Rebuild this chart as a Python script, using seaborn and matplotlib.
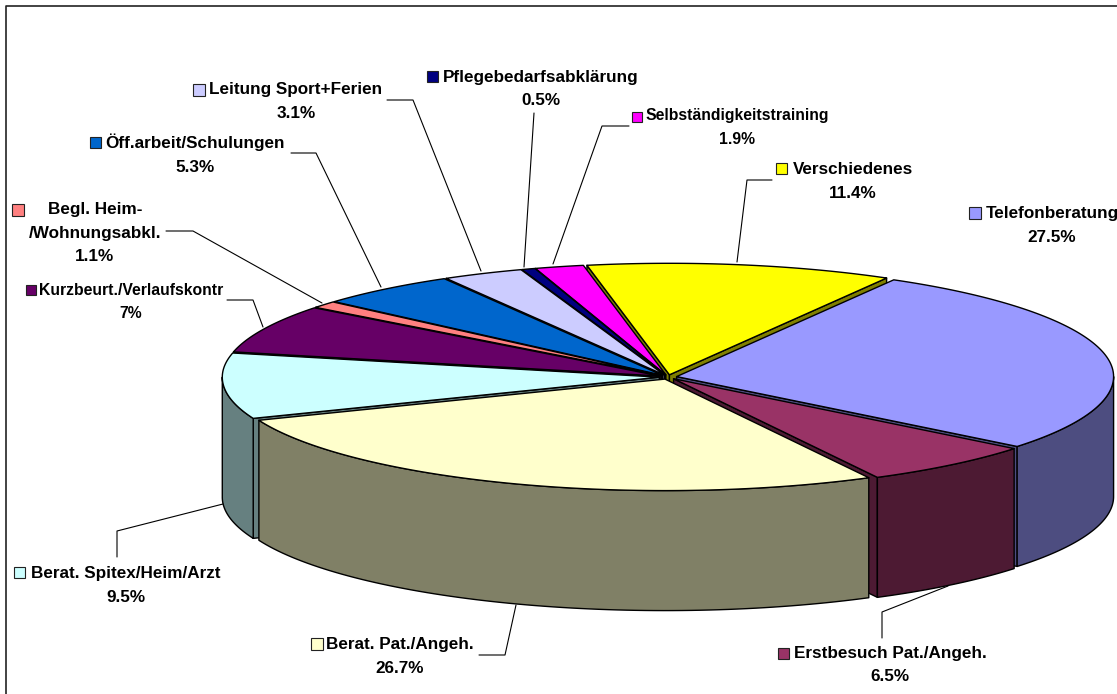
import numpy as np
import matplotlib
matplotlib.use('Agg')
import matplotlib.pyplot as plt
from matplotlib.patches import Rectangle
import seaborn as sns

categories = ['Telefonberatung', 'Erstbesuch Pat./Angeh.', 'Berat. Pat./Angeh.',
              'Berat. Spitex/Heim/Arzt', 'Kurzbeurt./Verlaufskontr',
              'Begl. Heim-\n/Wohnungsabkl.', 'Öff.arbeit/Schulungen',
              'Leitung Sport+Ferien', 'Pflegebedarfsabklärung',
              'Selbständigkeitstraining', 'Verschiedenes']
# slice sizes, the printed labels add up to 100.5
shares = [27.5, 6.5, 26.7, 9.5, 7.0, 1.0, 5.2, 3.0, 0.5, 1.8, 11.3]
share_labels = ['27.5%', '6.5%', '26.7%', '9.5%', '7%', '1.1%', '5.3%', '3.1%',
                '0.5%', '1.9%', '11.4%']
colors = ['#9999FF', '#993366', '#FFFFCC', '#CCFFFF', '#660066', '#FF8080',
          '#0066CC', '#CCCCFF', '#000080', '#FF00FF', '#FFFF00']

# layout, in pixels of the picture
cx, cy = 668, 377
rx, ry = 437, 111.5
depth = 120
explode = 0.02
start = 29.8

# text centre x, y, font size, swatch x, y, swatch size
label_pos = [(1052, 225.5, 12.3, 969, 207, 12), (890, 665, 12.3, 778, 648, 11),
             (400, 656.5, 12.3, 311, 638, 11.5), (125.5, 585.5, 12.3, 14, 567, 11),
             (131, 302, 11.3, 26, 285, 10), (95, 233, 12.3, 12, 204, 11.5),
             (195.5, 154.5, 12.3, 90, 137, 11), (296, 101.5, 12.3, 193, 84, 11.5),
             (541, 89, 12.3, 427, 71, 11), (737, 127.5, 11.3, 632, 112, 10),
             (853, 181.5, 12.3, 776, 163, 11)]
# leader lines
leaders = [None,
           [(882, 638), (882, 612), (948, 586)],
           [(479, 655), (505, 655), (516, 605)],
           [(117, 557), (117, 531), (223, 504)],
           [(227, 300), (253, 300), (263, 327)],
           [(166, 231), (193, 231), (322, 303)],
           [(291, 153), (316, 153), (381, 287)],
           [(387, 100), (413, 100), (481, 271)],
           [(534, 113), (524, 267)],
           [(629, 126), (602, 126), (553, 264)],
           [(772, 180), (747, 180), (737, 262)]]

sns.set_theme(style='white')
plt.rcParams['font.family'] = ['Liberation Sans', 'DejaVu Sans']

fig = plt.figure(figsize=(11.17, 6.94), dpi=100)
ax = fig.add_axes([0, 0, 1, 1])
ax.set_xlim(0, 1117)
ax.set_ylim(694, 0)
ax.axis('off')
palette = sns.color_palette(colors)

edges = start + np.cumsum([0] + shares) / sum(shares) * 360


def rim(deg, ox, oy):
    t = np.radians(deg)
    return cx + ox + rx * np.sin(t), cy + oy - ry * np.cos(t)


def draw_slice(i):
    a0, a1 = edges[i], edges[i + 1]
    mid = np.radians((a0 + a1) / 2)
    ox = explode * rx * np.sin(mid)
    oy = -explode * ry * np.cos(mid)
    top_col = palette[i]
    side_col = tuple(c * 0.5 for c in top_col)
    sty = dict(edgecolor='black', linewidth=1.0, joinstyle='round')
    tip = (cx + ox, cy + oy)

    # cut faces, only those turned towards the viewer
    for a, visible in ((a0, np.sin(np.radians(a0)) < 0),
                       (a1, np.sin(np.radians(a1)) > 0)):
        if visible:
            p = rim(a, ox, oy)
            ax.fill([tip[0], p[0], p[0], tip[0]],
                    [tip[1], p[1], p[1] + depth, tip[1] + depth],
                    facecolor=side_col, **sty)
    # outer wall, only the part that faces the viewer
    lo = max(a0, 90)
    hi = min(a1, 270)
    if lo < hi:
        ts = np.linspace(lo, hi, 80)
        xs, ys = rim(ts, ox, oy)
        ax.fill(np.r_[xs, xs[::-1]], np.r_[ys, ys[::-1] + depth],
                facecolor=side_col, **sty)
    # top
    ts = np.linspace(a0, a1, 120)
    xs, ys = rim(ts, ox, oy)
    ax.fill(np.r_[tip[0], xs], np.r_[tip[1], ys], facecolor=top_col, **sty)


# back slices first
mids = (edges[:-1] + edges[1:]) / 2
for i in np.argsort(-np.cos(np.radians(mids))):
    draw_slice(i)

for i, path in enumerate(leaders):
    if path is not None:
        ax.plot(*zip(*path), color='black', linewidth=0.8)

for i, cat in enumerate(categories):
    x, y, size, sx, sy, sw = label_pos[i]
    ax.text(x, y, cat + '\n' + share_labels[i], ha='center', va='center',
            fontsize=size, fontweight='bold', color='black', linespacing=1.72)
    ax.add_patch(Rectangle((sx, sy), sw, sw, facecolor=palette[i],
                           edgecolor='#222222', linewidth=0.8))

# chart frame
ax.plot([5.5, 5.5, 1117], [694, 5.5, 5.5], color='#222222', linewidth=1.2)

fig.savefig('out.png', dpi=100)
